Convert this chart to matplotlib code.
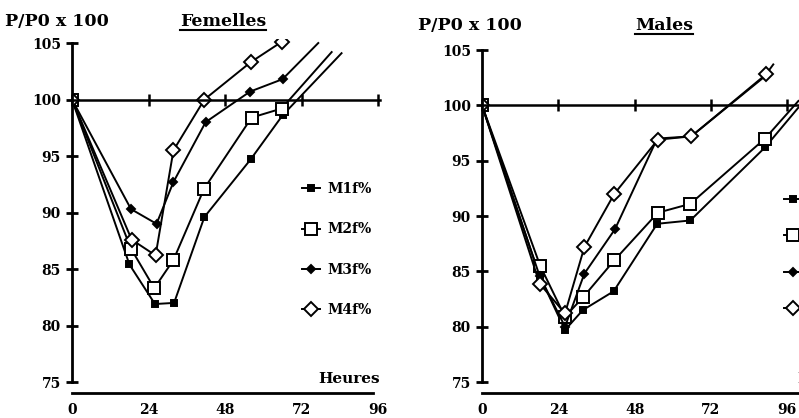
import matplotlib
matplotlib.use("Agg")
import matplotlib.pyplot as plt
from matplotlib.lines import Line2D

# hours and P/P0 x 100 (last point of each series = unmarked line end)
fem_m1_x = [0, 18, 26, 32, 41.5, 56, 66, 84.5]
fem_m1_y = [100, 85.4, 81.9, 82.0, 89.6, 94.7, 98.6, 104.1]
fem_m2_x = [0, 18.5, 25.8, 31.8, 41.4, 56.3, 65.7, 81.4]
fem_m2_y = [100, 86.8, 83.3, 85.8, 92.1, 98.4, 99.2, 104.2]
fem_m3_x = [0, 18.5, 26.5, 31.8, 41.9, 55.8, 66, 77.2]
fem_m3_y = [100, 90.3, 89.0, 92.7, 98.0, 100.7, 101.8, 105.0]
fem_m4_x = [0, 18.7, 26.2, 31.8, 41.5, 56, 65.7]
fem_m4_y = [100, 87.6, 86.2, 95.5, 100.0, 103.3, 105.1]

mal_m1_x = [0, 18.1, 26.1, 31.7, 41.4, 55.1, 65.5, 89, 99.5]
mal_m1_y = [100, 84.6, 79.7, 81.5, 83.2, 89.3, 89.6, 96.2, 99.8]
mal_m2_x = [0, 18.3, 26.1, 31.9, 41.6, 55.3, 65.5, 89, 99.5]
mal_m2_y = [100, 85.5, 80.9, 82.7, 86.0, 90.3, 91.1, 97.0, 100.4]
mal_m3_x = [0, 18.1, 26.1, 32.2, 41.8, 55.1, 65.8, 89.3]
mal_m3_y = [100, 84.6, 80.0, 84.8, 88.8, 97.0, 97.2, 102.7]
mal_m4_x = [0, 18.1, 26.1, 32.2, 41.6, 55.3, 65.8, 89.3, 91.6]
mal_m4_y = [100, 83.9, 81.2, 87.2, 92.0, 96.9, 97.2, 102.8, 103.7]

labels = ["M1f%", "M2f%", "M3f%", "M4f%"]
xticks = [0, 24, 48, 72, 96]
yticks = [75, 80, 85, 90, 95, 100, 105]

FONT = "DejaVu Serif"
W, H = 799, 418

fig = plt.figure(figsize=(W / 100, H / 100), dpi=100)

styles = [
    dict(marker="s", markersize=5, markerfacecolor="black"),
    dict(marker="s", markersize=8, markerfacecolor="white"),
    dict(marker="D", markersize=4.5, markerfacecolor="black"),
    dict(marker="D", markersize=7.5, markerfacecolor="white"),
]


def setup(ax, bottom_end, top_end):
    ax.set_xlim(0, 100)
    ax.set_ylim(74, 105.4)
    ax.spines["right"].set_visible(False)
    ax.spines["left"].set_bounds(75, 105)
    ax.spines["left"].set_linewidth(2)
    ax.spines["bottom"].set_bounds(0, bottom_end)
    ax.spines["bottom"].set_linewidth(2)
    ax.spines["top"].set_position(("data", 100))
    ax.spines["top"].set_bounds(0, top_end)
    ax.spines["top"].set_linewidth(1.8)
    ax.set_xticks(xticks)
    ax.set_yticks(yticks)
    ax.tick_params(axis="y", direction="inout", length=8, width=2, pad=4,
                   labelsize=10)
    ax.tick_params(axis="x", direction="inout", length=8, width=1.8,
                   top=True, bottom=False, labeltop=False, labelbottom=True,
                   pad=3, labelsize=10)
    for t in ax.get_xticklabels() + ax.get_yticklabels():
        t.set_fontfamily(FONT)
        t.set_fontweight("bold")
    ax.patch.set_alpha(0)


def draw(ax, xs, ys, marked):
    lines = []
    for x, y, st, lab, n in zip(xs, ys, styles, labels, marked):
        ln, = ax.plot(x, y, color="black", lw=1.4, markeredgecolor="black",
                      markeredgewidth=1.4, markevery=list(range(n)),
                      label=lab, clip_on=True, **st)
        lines.append(ln)
    return lines


# Femelles
ax1 = fig.add_axes([72 / W, 1 - 393.3 / H, 319 / W, (393.3 - 38.5) / H])
setup(ax1, 94.5, 96.5)
draw(ax1, [fem_m1_x, fem_m2_x, fem_m3_x, fem_m4_x],
     [fem_m1_y, fem_m2_y, fem_m3_y, fem_m4_y], [7, 7, 7, 7])
ax1.legend(loc="upper left", bbox_to_anchor=(302 / W, 1 - 182 / H),
           bbox_transform=fig.transFigure, frameon=False, handlelength=1.3,
           handletextpad=0.5, labelspacing=1.9, borderpad=0, borderaxespad=0,
           numpoints=1, prop=dict(family=FONT, weight="bold", size=10))

# Males
ax2 = fig.add_axes([482 / W, 1 - 393.1 / H, 318 / W, (393.1 - 45.6) / H])
setup(ax2, 100, 100)
draw(ax2, [mal_m1_x, mal_m2_x, mal_m3_x, mal_m4_x],
     [mal_m1_y, mal_m2_y, mal_m3_y, mal_m4_y], [8, 8, 8, 8])
ax2.legend(loc="upper left", bbox_to_anchor=(784 / W, 1 - 193 / H),
           bbox_transform=fig.transFigure, frameon=False, handlelength=1.3,
           handletextpad=0.5, labelspacing=1.6, borderpad=0, borderaxespad=0,
           numpoints=1, prop=dict(family=FONT, weight="bold", size=10))

tkw = dict(family=FONT, weight="bold", va="center", ha="left")
fig.text(5 / W, 1 - 22 / H, "P/P0 x 100", size=12.5, **tkw)
fem = fig.text(180 / W, 1 - 22 / H, "Femelles", size=12.5, **tkw)
fig.text(418 / W, 1 - 26 / H, "P/P0 x 100", size=12.5, **tkw)
mal = fig.text(635 / W, 1 - 26 / H, "Males", size=12.5, **tkw)
fig.text(318 / W, 1 - 379 / H, "Heures", size=11, **tkw)
fig.text(797 / W, 1 - 379 / H, "Heures", size=11, **tkw)

# underline the panel titles
fig.canvas.draw()
r = fig.canvas.get_renderer()
for t in [fem, mal]:
    bb = t.get_window_extent(r).transformed(fig.transFigure.inverted())
    fig.add_artist(Line2D([bb.x0, bb.x1], [bb.y0 + 0.002, bb.y0 + 0.002],
                          transform=fig.transFigure, color="black", lw=1.5))

fig.savefig("out.png", dpi=100)
